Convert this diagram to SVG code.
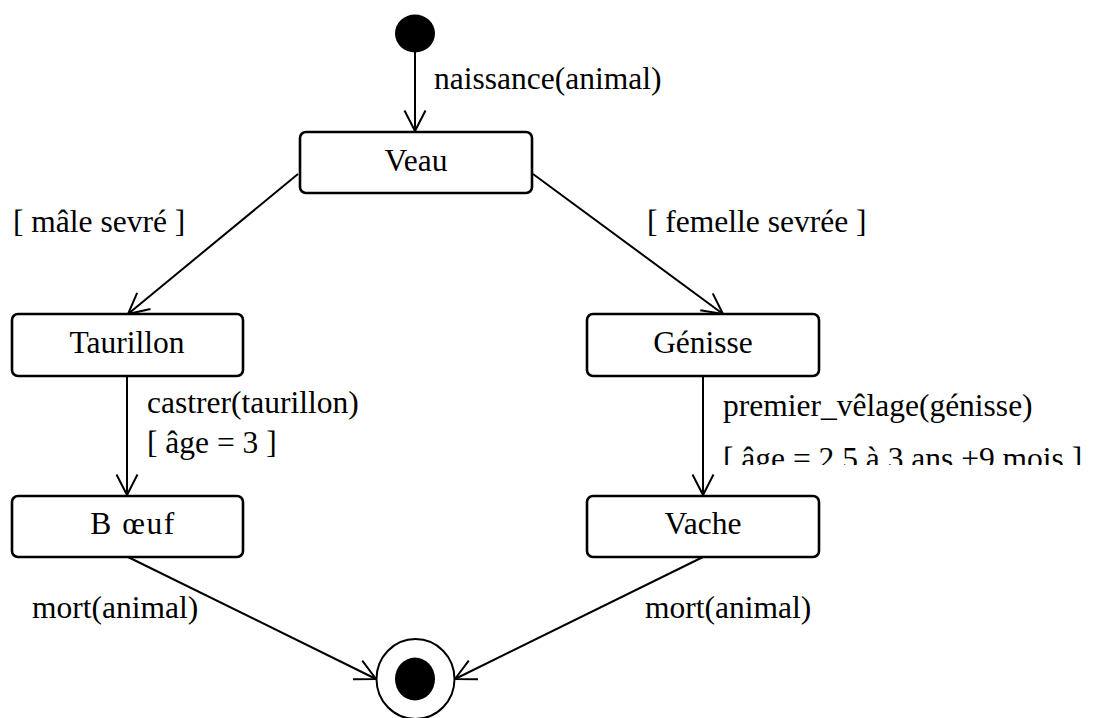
<svg xmlns="http://www.w3.org/2000/svg" width="1100" height="718" viewBox="0 0 1100 718">
  <style>
    text { font-family: "Liberation Serif", "Times New Roman", serif; font-size: 31.5px; fill: #000; }
    .state rect { fill: #fff; stroke: #000; stroke-width: 2.6; }
    .state text { text-anchor: middle; }
    .edge { fill: none; stroke: #000; stroke-width: 2; }
  </style>
  <defs>
    <!-- open V arrowhead used on every transition -->
    <marker id="open" markerUnits="userSpaceOnUse" markerWidth="30" markerHeight="30" viewBox="-25 -15 30 30" refX="0" refY="0" orient="auto">
      <path d="M-20.5,-10.5 L0,0 L-20.5,10.5" fill="none" stroke="#000" stroke-width="2"/>
    </marker>
    <clipPath id="guardClip">
      <rect x="700" y="420" width="400" height="45"/>
    </clipPath>
  </defs>

  <!-- transitions -->
  <g id="connectors">
    <line class="edge" x1="415" y1="52" x2="415" y2="131" marker-end="url(#open)"/>
    <line class="edge" x1="298" y1="174" x2="128" y2="314" marker-end="url(#open)"/>
    <line class="edge" x1="533" y1="174" x2="723" y2="314" marker-end="url(#open)"/>
    <line class="edge" x1="127" y1="376" x2="127" y2="495" marker-end="url(#open)"/>
    <line class="edge" x1="703" y1="376" x2="703" y2="495" marker-end="url(#open)"/>
    <line class="edge" x1="128" y1="557" x2="376" y2="679" marker-end="url(#open)"/>
    <line class="edge" x1="703" y1="557" x2="455" y2="679" marker-end="url(#open)"/>
  </g>

  <!-- transition labels -->
  <g id="labels">
    <text x="434" y="89">naissance(animal)</text>
    <text x="13" y="232">[ mâle sevré ]</text>
    <text x="647" y="232">[ femelle sevrée ]</text>
    <text x="147" y="413">castrer(taurillon)</text>
    <text x="147" y="453">[ âge = 3 ]</text>
    <text x="723" y="416">premier_vêlage(génisse)</text>
    <text x="723" y="469" clip-path="url(#guardClip)">[ âge = 2.5 à 3 ans +9 mois ]</text>
    <text x="32" y="618">mort(animal)</text>
    <text x="645" y="618">mort(animal)</text>
  </g>

  <!-- initial pseudo-state -->
  <g id="initial">
    <ellipse cx="415" cy="33.5" rx="20" ry="19" fill="#000"/>
  </g>

  <!-- states -->
  <g id="veau" class="state">
    <rect x="300" y="132" width="232" height="61" rx="6"/>
    <text x="416" y="171">Veau</text>
  </g>
  <g id="taurillon" class="state">
    <rect x="12" y="314" width="231" height="62" rx="6"/>
    <text x="127" y="353">Taurillon</text>
  </g>
  <g id="genisse" class="state">
    <rect x="587" y="314" width="232" height="62" rx="6"/>
    <text x="703" y="353">Génisse</text>
  </g>
  <g id="boeuf" class="state">
    <rect x="12" y="496" width="231" height="61" rx="6"/>
    <text x="133" y="534" letter-spacing="1.5">B œuf</text>
  </g>
  <g id="vache" class="state">
    <rect x="587" y="496" width="232" height="61" rx="6"/>
    <text x="703" y="534">Vache</text>
  </g>

  <!-- final state (runs off the lower edge) -->
  <g id="final">
    <ellipse cx="415.5" cy="679" rx="39" ry="40" fill="#fff" stroke="#000" stroke-width="2"/>
    <ellipse cx="415" cy="679" rx="20" ry="21.5" fill="#000"/>
  </g>
</svg>
